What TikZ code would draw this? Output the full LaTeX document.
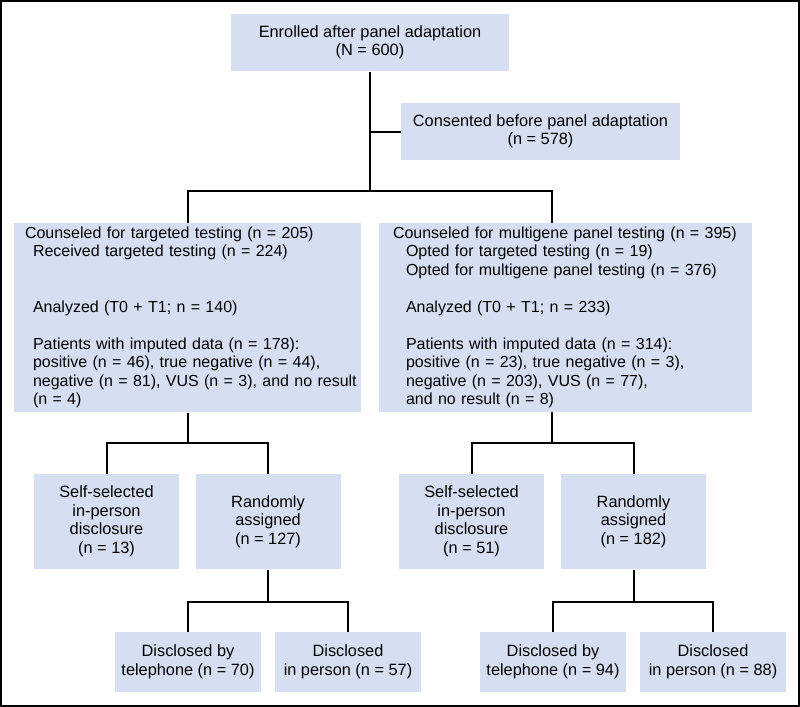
\documentclass[tikz,border=0pt]{standalone}
\usepackage{fontspec}
\setmainfont{Liberation Sans}
\definecolor{boxblue}{RGB}{214,223,241}

\tikzset{every picture/.style={line width=0.75pt}}
\tikzset{
  box/.style={fill=boxblue, inner sep=0pt, align=center, font=\fontsize{12.25}{13.875}\selectfont},
  bigbox/.style={box, align=left, minimum height=141.75pt, font=\fontsize{12}{13.875}\selectfont},
  smallbox/.style={box, minimum width=108.75pt, minimum height=71.25pt},
  endbox/.style={box, minimum width=109.5pt, minimum height=45pt},
  link/.style={line width=1.5}
}
\newcommand{\indL}{\hspace*{6pt}}
\newcommand{\indR}{\hspace*{9.75pt}}

\begin{document}
\begin{tikzpicture}[x=0.75pt,y=0.75pt,yscale=-1,xscale=1]
\useasboundingbox (0,0) rectangle (800,707);
%Frame
\draw [line width=1.5]  (1,1) rectangle (799,706) ;

% Top boxes
\node [box, minimum width=208.5pt, minimum height=42.75pt] (enrolled) at (370,42.5) {Enrolled after panel adaptation\\(N = 600)};
\node [box, minimum width=209.25pt, minimum height=42.75pt] (consented) at (540.5,131.5) {Consented before panel adaptation\\(n = 578)};

% Arms
\node [bigbox, text width=243.75pt, inner xsep=8.25pt] (targeted) at (187.5,317.5) {\mbox{Counseled for targeted testing (n = 205)}\\
\indL\mbox{Received targeted testing (n = 224)}\\[2\baselineskip]
\indL\mbox{Analyzed (T0 + T1; n = 140)}\\[\baselineskip]
\indL\mbox{Patients with imputed data (n = 178):}\\
\indL\mbox{positive (n = 46), true negative (n = 44),}\\
\indL\mbox{negative (n = 81), VUS (n = 3), and no result}\\
\indL\mbox{(n = 4)}};
\node [bigbox, text width=258.75pt, inner xsep=10.5pt] (multigene) at (565.5,317.5) {\mbox{Counseled for multigene panel testing (n = 395)}\\
\indR\mbox{Opted for targeted testing (n = 19)}\\
\indR\mbox{Opted for multigene panel testing (n = 376)}\\[\baselineskip]
\indR\mbox{Analyzed (T0 + T1; n = 233)}\\[\baselineskip]
\indR\mbox{Patients with imputed data (n = 314):}\\
\indR\mbox{positive (n = 23), true negative (n = 3),}\\
\indR\mbox{negative (n = 203), VUS (n = 77),}\\
\indR\mbox{and no result (n = 8)}};

% Disclosure choice
\node [smallbox] (selfL) at (106.5,521.5) {Self-selected\\in-person\\disclosure\\(n = 13)};
\node [smallbox] (randL) at (268,521.5) {Randomly\\assigned\\(n = 127)};
\node [smallbox] (selfR) at (471.5,521.5) {Self-selected\\in-person\\disclosure\\(n = 51)};
\node [smallbox] (randR) at (633.5,521.5) {Randomly\\assigned\\(n = 182)};

% Randomized disclosure
\node [endbox] (telL) at (188,662) {Disclosed by\\telephone (n = 70)};
\node [endbox] (persL) at (348,662) {Disclosed\\in person (n = 57)};
\node [endbox] (telR) at (553,662) {Disclosed by\\telephone (n = 94)};
\node [endbox] (persR) at (713,662) {Disclosed\\in person (n = 88)};

% Junctions
\coordinate (split) at (370,191);
\coordinate (mgin) at (552,223);
\coordinate (mgout) at (552,412);
\coordinate (jnL) at (187.5,443);
\coordinate (jnR) at (552,443);
\coordinate (rjL) at (268,602);
\coordinate (rjR) at (633.5,602);

%Connectors
\draw [link] (enrolled.south) -- (split) ;
\draw [link] (enrolled.south |- consented.west) -- (consented.west) ;
\draw [link] (targeted.north) |- (split) -| (mgin) ;
\draw [link] (targeted.south) -- (jnL) ;
\draw [link] (selfL.north) |- (jnL) -| (randL.north) ;
\draw [link] (mgout) -- (jnR) ;
\draw [link] (selfR.north) |- (jnR) -| (randR.north) ;
\draw [link] (randL.south) -- (rjL) ;
\draw [link] (telL.north) |- (rjL) -| (persL.north) ;
\draw [link] (randR.south) -- (rjR) ;
\draw [link] (telR.north) |- (rjR) -| (persR.north) ;

\end{tikzpicture}
\end{document}
